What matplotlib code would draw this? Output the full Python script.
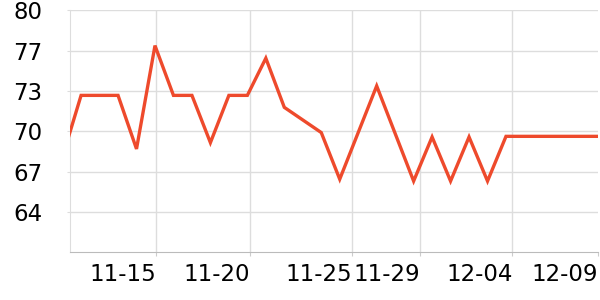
import matplotlib
matplotlib.use("Agg")
import matplotlib.pyplot as plt

# day number counted from Nov 1 (Dec n -> 30 + n); days without a reading are left out
days = [10, 11, 12, 13, 14, 15, 16, 17, 18, 19, 20, 21, 22, 24, 25, 27,
        29, 30, 31, 32, 33, 34, 35, 36, 37, 38, 39]
values = [68.4, 73.25, 73.25, 73.25, 69.0, 77.2, 73.25, 73.25, 69.5, 73.25, 73.25,
          76.2, 72.3, 70.3, 66.6, 74.0,
          66.45, 69.95, 66.45, 69.95, 66.45, 70.0, 70.0, 70.0, 70.0, 70.0, 70.0]

x_tick_pos = [15.05, 20.14, 25.65, 29.36, 34.35, 38.98]
x_tick_labels = ["11-15", "11-20", "11-25", "11-29", "12-04", "12-09"]
y_tick_pos = [64, 67.2, 70.4, 73.6, 76.8, 80]
y_tick_labels = ["64", "67", "70", "73", "77", "80"]

fig = plt.figure(figsize=(6, 3), dpi=100)
ax = fig.add_axes([70 / 600, 47.7 / 300, 528 / 600, 242 / 300])

ax.plot(days, values, color="#ee4a2c", linewidth=2.4, solid_joinstyle="miter", zorder=3)

ax.set_xlim(10.4, 38.98)
ax.set_ylim(60.8, 80)
ax.set_xticks(x_tick_pos)
ax.set_xticklabels(x_tick_labels)
ax.set_yticks(y_tick_pos)
ax.set_yticklabels(y_tick_labels)
plt.setp(ax.get_xticklabels(), ha="right")

ax.grid(True, color="#dddddd", linewidth=1)
ax.set_axisbelow(True)
# no vertical grid line on the right border
ax.get_xgridlines()[-1].set_visible(False)
for side in ["top", "right"]:
    ax.spines[side].set_visible(False)
ax.spines["left"].set_color("#dddddd")
ax.spines["bottom"].set_color("#bbbbbb")
ax.tick_params(axis="x", length=3, color="#cccccc", labelsize=16.5, pad=5)
ax.tick_params(axis="y", length=2, color="#dddddd", labelsize=16.5, pad=18)

fig.savefig("out.png", dpi=100)
plt.close(fig)
